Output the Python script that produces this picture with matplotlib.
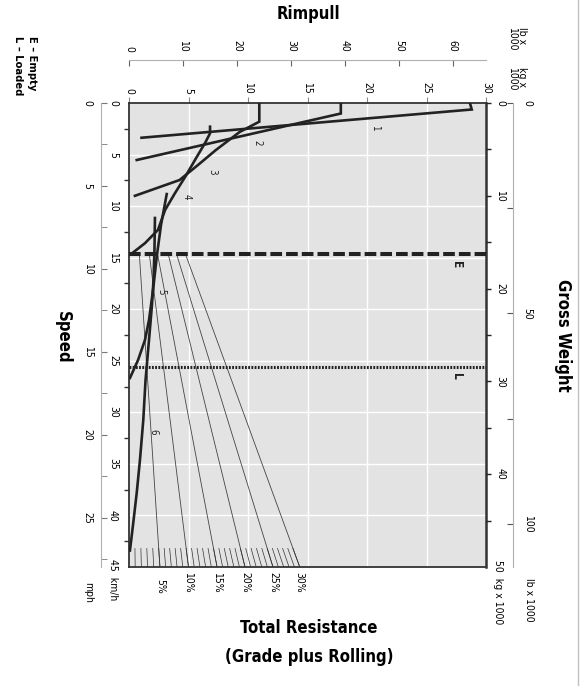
import numpy as np
import matplotlib
matplotlib.use('Agg')
import matplotlib.pyplot as plt

plt.rcParams['font.family'] = ['DejaVu Sans']
plt.rcParams['font.stretch'] = 'condensed'

# gear curves: rimpull (kg x 1000) against speed (km/h)
gear1_r = [28.65, 28.8, 1.05]
gear1_s = [0.0, 0.63, 3.37]
gear2_r = [17.8, 17.8, 0.65]
gear2_s = [0.0, 1.02, 5.53]
gear3_r = [10.95, 10.95, 9.3, 7.3, 5.8, 4.25, 0.5]
gear3_s = [0.0, 1.81, 2.81, 4.56, 6.01, 7.47, 9.0]
gear4_r = [6.81, 6.81, 6.39, 5.69, 4.71, 3.87, 3.03, 2.44, 1.34, 0.23]
gear4_s = [2.3, 2.94, 3.88, 5.24, 7.18, 8.73, 10.38, 12.3, 13.6, 14.6]
gear5_r = [3.17, 2.69, 2.35, 2.02, 1.68, 1.34, 0.76, 0.08]
gear5_s = [8.83, 11.83, 14.74, 18.14, 21.05, 22.99, 24.93, 26.67]
gear6_r = [2.18, 2.14, 2.06, 1.93, 1.68, 1.39, 1.2, 0.92, 0.65, 0.36, 0.08]
gear6_s = [11.15, 14.26, 17.17, 19.59, 22.99, 26.87, 30.75, 34.63, 37.8, 40.7, 43.4]

gears = [(gear1_r, gear1_s), (gear2_r, gear2_s), (gear3_r, gear3_s),
         (gear4_r, gear4_s), (gear5_r, gear5_s), (gear6_r, gear6_s)]
gear_names = ['1', '2', '3', '4', '5', '6']
gear_label_r = [20.7, 10.76, 6.97, 4.87, 2.75, 2.04]
gear_label_s = [2.42, 3.88, 6.69, 9.12, 18.3, 31.9]

# empty / loaded weight lines (speed axis units)
empty_s = 14.67
loaded_s = 25.6

# total resistance lines
grades = ['5%', '10%', '15%', '20%', '25%', '30%']
grade_pct = [5, 10, 15, 20, 25, 30]
grade_top_r = [0.87, 1.71, 2.4, 3.3, 4.0, 4.75]
grade_bottom_r = [2.6, 5.0, 7.4, 9.75, 12.1, 14.35]
minor_pct = np.arange(1, 31)

# axis scales
kg_ticks = [0, 5, 10, 15, 20, 25, 30]
lb_ticks = [0, 10, 20, 30, 40, 50, 60]
kmh_ticks = [0, 5, 10, 15, 20, 25, 30, 35, 40]
mph_ticks = [0, 5, 10, 15, 20, 25]
weight_kg_ticks = [0, 5, 10, 15, 20, 25, 30, 35, 40, 45]
weight_lb_ticks = [0, 25, 50, 75, 100]

KG_PER_LB = 0.45359237
KMH_PER_MPH = 1.609344

W, H = 580, 686
fig = plt.figure(figsize=(W / 100, H / 100), dpi=100)
rect = [129 / W, 1 - 567 / H, 357 / W, 464 / H]

def fx(px):
    return px / W

def fy(py):
    return 1 - py / H

#main chart
ax = fig.add_axes(rect)
ax.set_facecolor('#e3e3e3')
ax.set_xlim(0, 30)
ax.set_ylim(45, 0)
for x in range(5, 30, 5):
    ax.axvline(x, color='white', lw=1, zorder=1)
for y in range(5, 45, 5):
    ax.axhline(y, color='white', lw=1, zorder=1)

for sp in ax.spines.values():
    sp.set_color('#333')
    sp.set_linewidth(1.3)
ax.spines['right'].set_linewidth(1.8)

ax.xaxis.tick_top()
ax.set_xticks(kg_ticks)
ax.set_xticklabels([str(t) for t in kg_ticks])
ax.tick_params(axis='x', direction='out', length=4.3, color='#888', pad=2.5,
               labelsize=7.5, labelrotation=-90)

ax.set_yticks(kmh_ticks)
ax.set_yticklabels([str(t) for t in kmh_ticks])
ax.set_yticks(np.arange(2.5, 45, 5), minor=True)
ax.tick_params(axis='y', which='major', length=0, pad=8, labelsize=7.5,
               labelrotation=-90)
ax.tick_params(axis='y', which='minor', direction='out', length=3.6,
               color='#333', width=1)
for lab in ax.get_yticklabels():
    lab.set_va('center')

#grade lines
for top_r, bot_r in zip(grade_top_r, grade_bottom_r):
    ax.plot([top_r, bot_r], [empty_s, 45], color='#444', lw=0.6, zorder=2)
hatch_r = np.interp(minor_pct, [0] + grade_pct, [0] + grade_bottom_r)
for hr in hatch_r:
    ax.plot([hr * 43.2 / 45, hr], [43.2, 45], color='#333', lw=0.5, zorder=2)

#empty / loaded
ax.plot([0, 30], [empty_s, empty_s], color='#222', lw=2.9, dashes=(2.9, 1.0),
        zorder=3, solid_capstyle='butt', dash_capstyle='butt')
ax.plot([0, 30], [loaded_s, loaded_s], color='#222', lw=2.2, dashes=(0.6, 0.45),
        zorder=3, dash_capstyle='butt')
ax.text(27.5, 15.7, 'E', rotation=-90, ha='center', va='center', fontsize=8.5,
        fontweight='bold', color='#222')
ax.text(27.5, 26.5, 'L', rotation=-90, ha='center', va='center', fontsize=8.5,
        fontweight='bold', color='#222')

#gears
for (r, s) in gears:
    ax.plot(r, s, color='#222', lw=1.9, zorder=4, solid_joinstyle='miter')
for name, r, s in zip(gear_names, gear_label_r, gear_label_s):
    ax.text(r, s, name, rotation=-90, ha='center', va='center', fontsize=7,
            color='#222', zorder=5)

#grade labels under the chart
for lab, r in zip(grades, grade_bottom_r):
    y = 46.2 if lab == '5%' else 45.45
    ax.text(r, y, lab, rotation=-90, ha='center', va='top', fontsize=7.5,
            clip_on=False)

#gross weight kg (right)
axw = ax.twinx()
axw.set_ylim(50, 0)
axw.set_yticks(weight_kg_ticks)
axw.set_yticklabels([str(t) if t % 10 == 0 else '' for t in weight_kg_ticks])
axw.tick_params(axis='y', direction='out', length=3.6, color='#222', width=1,
                pad=3, labelsize=7.5, labelrotation=-90)
for lab in axw.get_yticklabels():
    lab.set_va('center')
for sp in axw.spines.values():
    sp.set_visible(False)

#rimpull lb (top)
axlb = fig.add_axes(rect)
axlb.patch.set_visible(False)
axlb.set_xlim(0, 30 / KG_PER_LB)
for k in ['left', 'right', 'bottom']:
    axlb.spines[k].set_visible(False)
axlb.spines['top'].set_position(('outward', 31))
axlb.spines['top'].set_color('#b0b0b0')
axlb.xaxis.tick_top()
axlb.set_xticks(lb_ticks)
axlb.set_xticklabels([str(t) for t in lb_ticks])
axlb.tick_params(axis='x', direction='in', length=4.3, color='#666', pad=6,
                 labelsize=7.5, labelrotation=-90)
axlb.set_yticks([])

#speed mph (left)
axm = fig.add_axes(rect)
axm.patch.set_visible(False)
axm.set_ylim(45 / KMH_PER_MPH, 0)
for k in ['top', 'right', 'bottom']:
    axm.spines[k].set_visible(False)
axm.spines['left'].set_position(('outward', 20.2))
axm.spines['left'].set_color('#b0b0b0')
axm.set_yticks(mph_ticks)
axm.set_yticklabels([str(t) for t in mph_ticks])
axm.set_yticks(np.arange(2.5, 28, 5), minor=True)
axm.tick_params(axis='y', which='both', direction='in', length=4.3,
                color='#777', pad=6, labelsize=7.5, labelrotation=-90)
for lab in axm.get_yticklabels():
    lab.set_va('center')
axm.set_xticks([])

#gross weight lb (right)
axr = fig.add_axes(rect)
axr.patch.set_visible(False)
axr.set_ylim(50 / KG_PER_LB, 0)
for k in ['top', 'left', 'bottom']:
    axr.spines[k].set_visible(False)
axr.spines['right'].set_position(('outward', 19.4))
axr.spines['right'].set_color('#b0b0b0')
axr.yaxis.tick_right()
axr.set_yticks(weight_lb_ticks)
axr.set_yticklabels([str(t) if t % 50 == 0 else '' for t in weight_lb_ticks])
axr.tick_params(axis='y', direction='in', length=4.3, color='#555', pad=7,
                labelsize=7.5, labelrotation=-90)
for lab in axr.get_yticklabels():
    lab.set_va('center')
axr.set_xticks([])

#unit texts
fig.text(fx(113), fy(559), '45  km/h', rotation=-90, ha='center', va='top', fontsize=7.5)
fig.text(fx(88), fy(582), 'mph', rotation=-90, ha='center', va='top', fontsize=7.5)
fig.text(fx(498), fy(560), '50  kg x 1000', rotation=-90, ha='center', va='top', fontsize=7.5)
fig.text(fx(529), fy(578), 'lb x 1000', rotation=-90, ha='center', va='top', fontsize=7.5)
fig.text(fx(517), fy(27), 'lb x\n1000', rotation=-90, ha='center', va='top',
         fontsize=7.5, multialignment='left', linespacing=1.0)
fig.text(fx(517), fy(67), 'kg x\n1000', rotation=-90, ha='center', va='top',
         fontsize=7.5, multialignment='left', linespacing=1.0)
fig.text(fx(25), fy(36), 'E \u2013 Empty\nL \u2013 Loaded', rotation=-90, ha='center',
         va='top', fontsize=8, fontweight='bold', multialignment='left', linespacing=1.4)

#titles
fig.text(fx(308), fy(14), 'Rimpull', ha='center', va='center', fontsize=12, fontweight='bold')
fig.text(fx(563), fy(335), 'Gross Weight', rotation=-90, ha='center', va='center',
         fontsize=12, fontweight='bold')
fig.text(fx(63), fy(337), 'Speed', rotation=-90, ha='center', va='center',
         fontsize=12, fontweight='bold')
fig.text(fx(309), fy(628), 'Total Resistance', ha='center', va='center', fontsize=12,
         fontweight='bold')
fig.text(fx(309), fy(657), '(Grade plus Rolling)', ha='center', va='center', fontsize=12,
         fontweight='bold')

fig.add_artist(plt.Line2D([fx(577.5), fx(577.5)], [0, 1], transform=fig.transFigure,
                          color='#c0c0c0', lw=1))

fig.savefig('out.png', dpi=100)
